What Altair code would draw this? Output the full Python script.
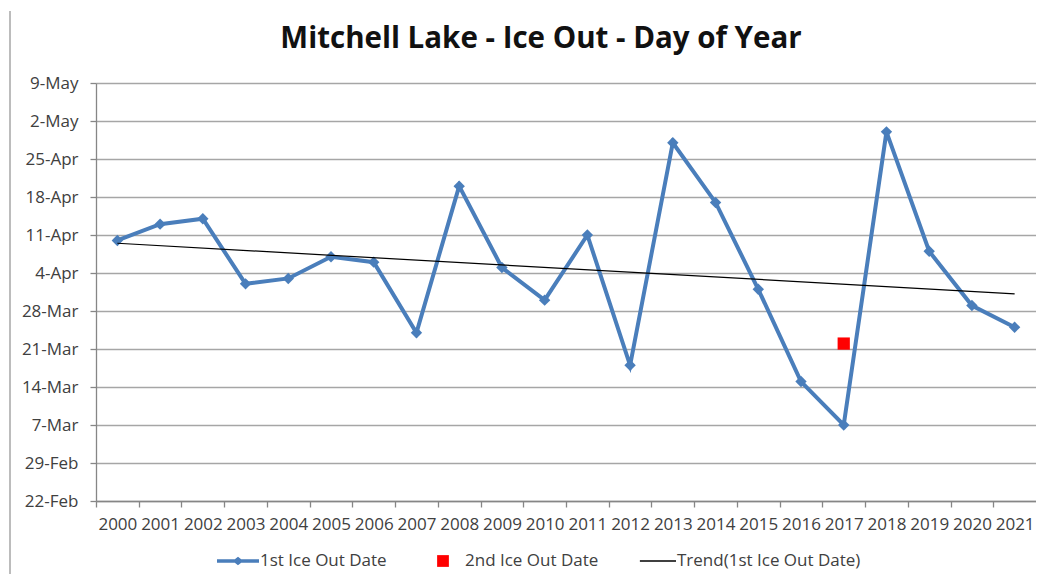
import altair as alt
import pandas as pd

# ---------------- data ----------------
years = [2000, 2001, 2002, 2003, 2004, 2005, 2006, 2007, 2008, 2009, 2010,
         2011, 2012, 2013, 2014, 2015, 2016, 2017, 2018, 2019, 2020, 2021]
first_ice_out = ["04-10", "04-13", "04-14", "04-02", "04-03", "04-07", "04-06",
                 "03-24", "04-20", "04-05", "03-30", "04-11", "03-18", "04-28",
                 "04-17", "04-01", "03-15", "03-07", "04-30", "04-08", "03-29",
                 "03-25"]
second_years = [2017]
second_ice_out = ["03-22"]
y_tick_dates = ["02-22", "02-29", "03-07", "03-14", "03-21", "03-28", "04-04",
                "04-11", "04-18", "04-25", "05-02", "05-09"]
series_names = ["1st Ice Out Date", "2nd Ice Out Date", "Trend(1st Ice Out Date)"]

# ---------------- styles ----------------
BLUE = "#4A7EBB"
RED = "#FF0000"
BLACK = "#000000"
FONT = "Open Sans"
PLOT_W, PLOT_H = 940, 418


def doy(md):
    # day of year on the (leap) year 2000 calendar used by the axis
    return int(pd.Timestamp("2000-" + md).dayofyear)


df1 = pd.DataFrame({"year": years, "doy": [doy(d) for d in first_ice_out]})
df2 = pd.DataFrame({"year": second_years, "doy": [doy(d) for d in second_ice_out]})
y_ticks = [doy(d) for d in y_tick_dates]
x_ticks = years + [years[-1] + 1]
half_band = PLOT_W / len(years) / 2

x_enc = alt.X(
    "year:Q",
    scale=alt.Scale(domain=[years[0] - 0.5, years[-1] + 0.5], nice=False, zero=False),
    axis=alt.Axis(
        values=x_ticks, format="d", title=None, grid=False,
        labelExpr=f"datum.value > {years[-1]} ? '' : datum.label",
        tickOffset=-half_band, labelOffset=half_band,
        labelFlush=False, labelOverlap=False, labelPadding=9,
    ),
)
y_enc = alt.Y(
    "doy:Q",
    scale=alt.Scale(domain=[y_ticks[0], y_ticks[-1]], nice=False, zero=False),
    axis=alt.Axis(
        values=y_ticks, title=None, grid=True, labelPadding=12,
        labelExpr="timeFormat(datetime(2000, 0, datum.value), '%-d-%b')",
    ),
)

line1 = alt.Chart(df1).mark_line(color=BLUE, strokeWidth=4).encode(x=x_enc, y=y_enc)
pts1 = alt.Chart(df1).mark_point(shape="diamond", filled=True, size=130,
                                 color=BLUE, opacity=1).encode(x=x_enc, y=y_enc)
sq2 = alt.Chart(df2).mark_square(color=RED, size=150, opacity=1).encode(x=x_enc, y=y_enc)
trend = (alt.Chart(df1).transform_regression("year", "doy")
         .mark_line(color=BLACK, strokeWidth=1.2).encode(x=x_enc, y=y_enc))

border = alt.Chart(pd.DataFrame({"a": [0]})).mark_rule(
    color="#a6a6a6", strokeWidth=1.5
).encode(x=alt.value(-86), y=alt.value(-72), y2=alt.value(500))

legend_paths = [
    "M-1,-0.08H1V0.08H-1Z M-0.26,0L0,-0.2L0.26,0L0,0.2Z",
    "M-0.28,-0.28H0.28V0.28H-0.28Z",
    "M-0.72,-0.03H1V0.03H-0.72Z",
]
legend_df = pd.DataFrame({"series": series_names})
# legend-only layer: the rows are filtered away, the legend comes from the fixed scale domain
legend_layer = alt.Chart(legend_df).transform_filter("false").mark_point(
    filled=True, opacity=1
).encode(
    color=alt.Color(
        "series:N",
        scale=alt.Scale(domain=series_names, range=[BLUE, RED, BLACK]),
        legend=alt.Legend(
            title=None, orient="none", direction="horizontal",
            legendX=121, legendY=457, padding=0,
            symbolSize=1764, symbolStrokeWidth=0, symbolOpacity=1,
            columnPadding=35, labelOffset=1, labelLimit=0,
            labelFont=FONT, labelFontSize=17, labelColor="#404040",
        ),
    ),
    shape=alt.Shape("series:N", scale=alt.Scale(domain=series_names, range=legend_paths)),
)

chart = alt.layer(line1, pts1, sq2, trend, border, legend_layer).properties(
    width=PLOT_W,
    height=PLOT_H,
    title=alt.Title(
        "Mitchell Lake - Ice Out - Day of Year",
        font=FONT, fontSize=29.5, fontWeight="bold", color="#111111",
        anchor="middle", dx=-25, offset=-67, baseline="alphabetic",
    ),
    padding={"left": 88, "top": 75, "right": 0, "bottom": 73},
    autosize=alt.AutoSizeParams(type="none"),
).configure_view(stroke="transparent").configure_axis(
    labelFont=FONT, labelFontSize=17, labelColor="#404040",
    domainColor="#868686", domainWidth=1.3,
    tickColor="#868686", tickWidth=1.3, tickSize=6,
    gridColor="#a6a6a6", gridWidth=1.3,
)

chart.save("out.html", embed_options={"renderer": "svg", "actions": False})
